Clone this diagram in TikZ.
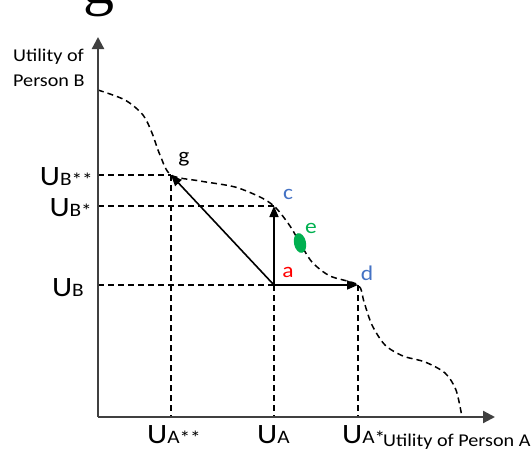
\documentclass[tikz,border=0pt]{standalone}
\usepackage{fontspec}
\setmainfont[FakeStretch=1.12]{Carlito}
\newfontfamily\cutfont{Liberation Serif}
\usetikzlibrary{arrows.meta,positioning,calc}
\definecolor{ptblue}{RGB}{68,114,196}
\definecolor{ptgreen}{RGB}{0,176,80}
\definecolor{axisgray}{RGB}{64,64,64}
\newcommand{\ulab}[2]{{\fontsize{28}{28}\selectfont U}{\fontsize{19}{19}\selectfont #1\raisebox{-1pt}{#2}}}
\newcommand{\ptfont}{\fontsize{21}{21}\selectfont}

\begin{document}
\begin{tikzpicture}[x=1pt,y=-1pt,
    axis/.style={axisgray,line width=2.2pt,-{Triangle[length=12pt,width=12pt]}},
    guide/.style={line width=1.3pt,dash pattern=on 6pt off 4pt},
    frontier/.style={line width=1.5pt,dash pattern=on 6pt off 4pt},
    move/.style={line width=1.6pt,-{Triangle[length=11pt,width=9pt]}},
    axlabel/.style={inner sep=0pt,font=\fontsize{18}{25}\selectfont}]
  \useasboundingbox (0,0) rectangle (531,453);
  \coordinate (O) at (98,417);
  \coordinate (ytip) at (98,37);
  \coordinate (xtip) at (495,417);
  \coordinate (g) at (171,175);
  \coordinate (c) at (274,206);
  \coordinate (a) at (274,285);
  \coordinate (d) at (358,285);
  \coordinate (e) at (300,243);
  \draw[frontier] plot[smooth,tension=0.5] coordinates {(98,90) (125,100) (143,115) (152,133)
      (160,155) (171,175) (200,181) (235,187) (262,198) (276,208) (290,226) (300,243)
      (312,262) (330,276) (358,285) (364,302) (372,325) (385,345) (403,356) (425,362)
      (445,373) (456,390) (462,417)};
  \draw[guide] (O |- g) -- (g);
  \draw[guide] (O |- c) -- (c);
  \draw[guide] (O |- a) -- (a);
  \draw[guide] (g) -- (g |- O);
  \draw[guide] (a) -- (a |- O);
  \draw[guide] (d) -- (d |- O);
  \draw[axis] (O) -- (ytip);
  \draw[axis] (O) -- (xtip);
  \draw[move] (a) -- (c);
  \draw[move] (a) -- (d);
  \draw[move] (a) -- (g);
  \fill[ptgreen,rotate around={12:(e)}] (e) ellipse [x radius=6pt, y radius=10pt];
  \node[anchor=base,font=\cutfont\fontsize{62}{62}\selectfont] (gtop) at (99,3) {g};
  \node[axlabel,anchor=north west,align=left] (ylab) at (13,49) {Utility of\\Person B};
  \node[axlabel,anchor=base west] (xlab) at (383,446) {Utility of Person A};
  \node[anchor=base east,inner sep=0pt] (ubss) at (93,185) {\ulab{B}{**}};
  \node[anchor=base east,inner sep=0pt] (ubs) at (92,216) {\ulab{B}{*}};
  \node[anchor=base east,inner sep=0pt] (ub) at (84,296) {\ulab{B}{}};
  \node[anchor=base west,inner sep=0pt] (uass) at (147,443) {\ulab{A}{**}};
  \node[anchor=base west,inner sep=0pt] (ua) at (257,443) {\ulab{A}{}};
  \node[anchor=base west,inner sep=0pt] (uas) at (342,443) {\ulab{A}{*}};
  \node[anchor=base,font=\ptfont] (glab) at (184,162) {g};
  \node[anchor=base,font=\ptfont,ptblue] (clab) at (288,199) {c};
  \node[anchor=base,font=\ptfont,ptgreen] (elab) at (311,233) {e};
  \node[anchor=base,font=\ptfont,red] (alab) at (288,277) {a};
  \node[anchor=base,font=\ptfont,ptblue] (dlab) at (367,280) {d};
\end{tikzpicture}
\end{document}
